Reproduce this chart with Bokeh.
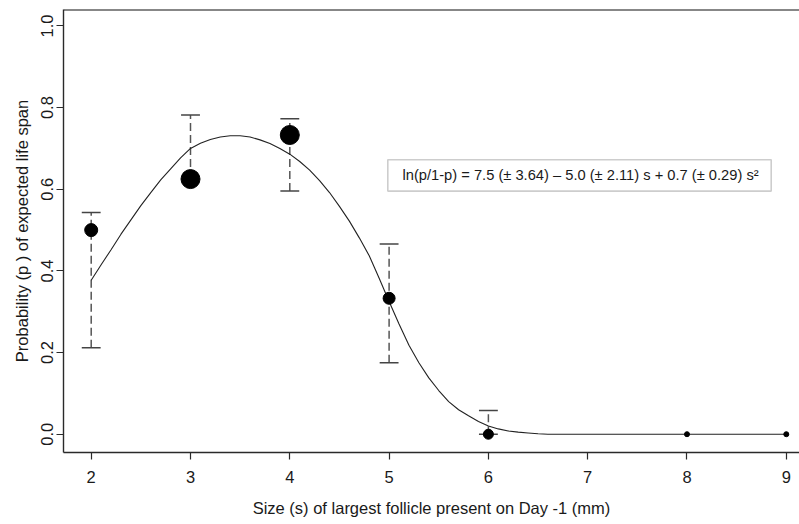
from bokeh.plotting import figure
from bokeh.models import Range1d, FixedTicker, ColumnDataSource, Label, BoxAnnotation, Span
from bokeh.embed import file_html
from bokeh.resources import INLINE

# ---- data ----
obs_size = [2, 3, 4, 5, 6, 8, 9]
obs_prob = [0.50, 0.625, 0.733, 0.333, 0.0, 0.0, 0.0]

err_size = [2, 3, 4, 5, 6]
err_low = [0.212, 0.625, 0.596, 0.175, 0.0]
err_high = [0.543, 0.782, 0.773, 0.466, 0.058]

curve_size = [2.0, 2.1, 2.2, 2.3, 2.4, 2.5, 2.6, 2.7, 2.8, 2.9, 3.0, 3.1, 3.2,
              3.3, 3.4, 3.5, 3.6, 3.7, 3.8, 3.9, 4.0, 4.1, 4.2, 4.3, 4.4, 4.5,
              4.6, 4.7, 4.8, 4.9, 5.0, 5.1, 5.2, 5.3, 5.4, 5.5, 5.6, 5.7, 5.8,
              5.9, 6.0, 6.1, 6.2, 6.3, 6.4, 6.5, 6.6, 7.0, 8.0, 9.0]
curve_prob = [0.377, 0.415, 0.452, 0.490, 0.525, 0.560, 0.592, 0.623, 0.650,
              0.677, 0.700, 0.713, 0.722, 0.728, 0.731, 0.731, 0.728, 0.721,
              0.712, 0.700, 0.686, 0.668, 0.647, 0.621, 0.592, 0.558, 0.522,
              0.481, 0.437, 0.382, 0.325, 0.270, 0.218, 0.175, 0.138, 0.107,
              0.080, 0.060, 0.045, 0.031, 0.020, 0.013, 0.008, 0.005, 0.003,
              0.001, 0.0, 0.0, 0.0, 0.0]

x_ticks = [2, 3, 4, 5, 6, 7, 8, 9]
y_ticks = [0.0, 0.2, 0.4, 0.6, 0.8, 1.0]

equation = "ln(p/1-p) = 7.5 (\u00b1 3.64) \u2013 5.0 (\u00b1 2.11) s + 0.7 (\u00b1 0.29) s\u00b2"
x_title = "Size (s) of largest follicle present on Day -1 (mm)"
y_title = "Probability (p ) of expected life span"

# marker diameters in px (style)
marker_px = [13, 19, 19, 12, 10, 5, 5]

FONT = "Liberation Sans"
FS = "16.5px"
INK = "#1a1a1a"
AXC = "#2a2a2a"

Y_TOP = 1.0404
p = figure(width=799, height=524, output_backend="svg", toolbar_location=None,
           x_range=Range1d(1.721, 9.133), y_range=Range1d(-0.0448, Y_TOP),
           min_border_left=63, min_border_right=0, min_border_top=9,
           min_border_bottom=72)
p.background_fill_color = "white"
p.border_fill_color = "white"
p.outline_line_color = None
p.grid.visible = False

xa = p.below[0]
ya = p.left[0]

for ax in (xa, ya):
    ax.axis_line_color = AXC
    ax.axis_line_width = 1.4
    ax.major_tick_line_color = AXC
    ax.major_tick_line_width = 1.2
    ax.major_tick_out = 7
    ax.major_tick_in = 0
    ax.minor_tick_line_color = None
    ax.major_label_text_font = FONT
    ax.major_label_text_font_size = FS
    ax.major_label_text_color = INK
    ax.axis_label_text_font = FONT
    ax.axis_label_text_font_size = FS
    ax.axis_label_text_font_style = "normal"
    ax.axis_label_text_color = INK

xa.ticker = FixedTicker(ticks=x_ticks)
ya.ticker = FixedTicker(ticks=y_ticks)
ya.major_label_overrides = {t: f"{t:.1f}" for t in y_ticks}
ya.major_label_orientation = "vertical"
xa.axis_label = x_title
ya.axis_label = y_title
xa.major_label_standoff = 11
xa.axis_label_standoff = 13
ya.major_label_standoff = 3
ya.axis_label_standoff = 8

# top frame line (the frame runs past the right edge of the window)
p.add_layout(Span(location=Y_TOP, dimension="width", line_color="#111111",
                  line_width=2))

# error bars (dashed)
p.segment(x0=err_size, y0=err_low, x1=err_size, y1=err_high,
          line_color="#555555", line_width=1.5, line_dash="8 4")
# caps
cap_half = 0.095
p.segment(x0=[s - cap_half for s in err_size], y0=err_high,
          x1=[s + cap_half for s in err_size], y1=err_high,
          line_color="#444444", line_width=1.5)
p.segment(x0=[s - cap_half for s in err_size], y0=err_low,
          x1=[s + cap_half for s in err_size], y1=err_low,
          line_color="#444444", line_width=1.5)

# fitted curve
p.line(curve_size, curve_prob, line_color="#222222", line_width=1.1)

# observed points
src = ColumnDataSource(dict(x=obs_size, y=obs_prob, sz=marker_px))
p.scatter("x", "y", size="sz", source=src, fill_color="black", line_color="black")

# equation box
p.add_layout(BoxAnnotation(left=4.987, right=8.848, top=0.6725, bottom=0.5956,
                           fill_color="white", fill_alpha=1.0,
                           line_color="#5a5a5a", line_width=1.6))
p.add_layout(Label(x=6.928, y=0.634, text=equation, text_font=FONT,
                   text_font_size="14.7px", text_align="center",
                   text_baseline="middle", text_color=INK))

open("out.html", "w").write(file_html(p, INLINE))
